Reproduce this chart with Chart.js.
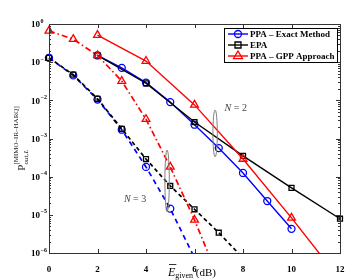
<!DOCTYPE html>
<html>
<head>
<meta charset="utf-8">
<script src="https://cdn.jsdelivr.net/npm/chart.js@4.4.1/dist/chart.umd.min.js"></script>
<style>
  body { margin: 0; background: #fff; }
  canvas { display: block; }
</style>
</head>
<body>
<canvas id="outage" width="351" height="280"></canvas>
<script>
// N = 2 (solid lines)
var exactN2_x = [2, 3, 4, 5, 6, 7, 8, 9, 10];
var exactN2_y = [0.15, 0.071, 0.029, 0.009, 0.0023, 5.6e-4, 1.25e-4, 2.3e-5, 4.3e-6];
var epaN2_x = [2, 4, 6, 8, 10, 12];
var epaN2_y = [0.15, 0.028, 0.0027, 3.5e-4, 5.1e-5, 7.9e-6];
var gppN2_x = [2, 4, 6, 8, 10, 12];
var gppN2_y = [0.51, 0.107, 0.0076, 2.9e-4, 8.3e-6, 2e-7];

// N = 3 (dashed lines)
var exactN3_x = [0, 1, 2, 3, 4, 5, 6];
var exactN3_y = [0.13, 0.045, 0.0105, 0.0017, 1.8e-4, 1.45e-5, 7.5e-7];
var epaN3_x = [0, 1, 2, 3, 4, 5, 6, 7, 8];
var epaN3_y = [0.13, 0.047, 0.011, 0.0018, 2.9e-4, 5.7e-5, 1.4e-5, 3.4e-6, 7.4e-7];
var gppN3_x = [0, 1, 2, 3, 4, 5, 6, 7];
var gppN3_y = [0.66, 0.4, 0.15, 0.032, 0.0032, 1.8e-4, 7.4e-6, 2.1e-7];

var legendNames = ['PPA \u2013 Exact Method', 'EPA', 'PPA \u2013 GPP Approach'];
var xTicks = [0, 2, 4, 6, 8, 10, 12];
var yDecades = [0, -1, -2, -3, -4, -5, -6];

// ellipse groupings: x, upper y, lower y ; labels: text, x, y
var groupLabels = ['2', '3'];
var groupX = [6.85, 4.87];
var groupTop = [5.6e-3, 5.0e-4];
var groupBottom = [3.3e-4, 1.2e-5];
var labelX = [7.7, 3.55];
var labelY = [6.3e-3, 2.5e-5];

var BLUE = '#0000ff', RED = '#ff0000', BLACK = '#000000';

function pts(xs, ys) {
    return xs.map(function (x, i) { return {x: x, y: ys[i]}; });
}

function series(label, xs, ys, color, shape, dash, r) {
    return {
        label: label,
        data: pts(xs, ys),
        borderColor: color,
        backgroundColor: color,
        pointStyle: shape,
        pointRadius: r,
        pointBorderColor: color,
        pointBackgroundColor: 'rgba(0,0,0,0)',
        pointBorderWidth: 1.3,
        borderWidth: dash.length ? 1.7 : 1.4,
        borderDash: dash,
        fill: false,
        tension: 0,
        clip: { left: 8, top: 8, right: 8, bottom: 0 }
    };
}

function drawMarker(ctx, shape, x, y, color) {
    ctx.save();
    ctx.strokeStyle = color;
    ctx.lineWidth = 1.3;
    ctx.setLineDash([]);
    ctx.beginPath();
    if (shape == 'circle') {
        ctx.arc(x, y, 3.5, 0, Math.PI * 2);
    } else if (shape == 'rect') {
        ctx.rect(x - 3, y - 3, 6, 6);
    } else {
        ctx.moveTo(x, y - 5);
        ctx.lineTo(x + 4.5, y + 2.6);
        ctx.lineTo(x - 4.5, y + 2.6);
        ctx.closePath();
    }
    ctx.stroke();
    ctx.restore();
}

var decor = {
    id: 'decor',
    afterDatasetsDraw: function (chart) {
        var ctx = chart.ctx;
        var a = chart.chartArea;
        var xs = chart.scales.x, ys = chart.scales.y;
        ctx.save();

        // box + inward ticks
        ctx.strokeStyle = '#333';
        ctx.lineWidth = 1;
        ctx.strokeRect(a.left + 0.5, a.top + 0.5, a.right - a.left, a.bottom - a.top);
        ctx.beginPath();
        xTicks.forEach(function (v) {
            var px = Math.round(xs.getPixelForValue(v)) + 0.5;
            ctx.moveTo(px, a.bottom); ctx.lineTo(px, a.bottom - 4);
            ctx.moveTo(px, a.top); ctx.lineTo(px, a.top + 4);
        });
        yDecades.forEach(function (d) {
            for (var m = 1; m < 10; m++) {
                var v = m * Math.pow(10, d);
                if (v > 1.0001) continue;
                var py = Math.round(ys.getPixelForValue(v)) + 0.5;
                if (py < a.top || py > a.bottom + 1) continue;
                var len = m == 1 ? 4 : 2;
                ctx.moveTo(a.left, py); ctx.lineTo(a.left + len, py);
                ctx.moveTo(a.right, py); ctx.lineTo(a.right - len, py);
            }
        });
        ctx.stroke();

        // y tick labels 10^d
        ctx.fillStyle = '#000';
        yDecades.forEach(function (d) {
            var py = ys.getPixelForValue(Math.pow(10, d));
            ctx.font = 'bold 9px "Liberation Serif"';
            ctx.textAlign = 'right';
            ctx.textBaseline = 'middle';
            ctx.fillText('10', 40, py + 1);
            ctx.font = 'bold 6px "Liberation Serif"';
            ctx.textAlign = 'left';
            ctx.fillText(d == 0 ? '0' : '\u2212' + (-d), 40.5, py - 3);
        });

        // grouping ellipses and N labels
        ctx.strokeStyle = '#808080';
        ctx.lineWidth = 1;
        groupX.forEach(function (gx, i) {
            var cx = xs.getPixelForValue(gx);
            var t = ys.getPixelForValue(groupTop[i]);
            var b = ys.getPixelForValue(groupBottom[i]);
            ctx.beginPath();
            ctx.ellipse(cx, (t + b) / 2, 2.2, (b - t) / 2, 0, 0, Math.PI * 2);
            ctx.stroke();
            var lx = xs.getPixelForValue(labelX[i]);
            var ly = ys.getPixelForValue(labelY[i]);
            ctx.fillStyle = '#444';
            ctx.textBaseline = 'middle';
            ctx.textAlign = 'left';
            ctx.font = 'italic 10px "Liberation Serif"';
            var w1 = ctx.measureText('N').width;
            ctx.font = '10px "Liberation Serif"';
            var rest = ' = ' + groupLabels[i];
            var w2 = ctx.measureText(rest).width;
            var sx = lx - (w1 + w2) / 2;
            ctx.font = 'italic 10px "Liberation Serif"';
            ctx.fillText('N', sx, ly);
            ctx.font = '10px "Liberation Serif"';
            ctx.fillText(rest, sx + w1, ly);
        });

        // legend
        var lx0 = 224, ly0 = 28, lw = 113, lh = 34;
        ctx.fillStyle = '#fff';
        ctx.fillRect(lx0, ly0, lw, lh);
        ctx.strokeStyle = '#000';
        ctx.lineWidth = 1;
        ctx.strokeRect(lx0 + 0.5, ly0 + 0.5, lw, lh);
        var shapes = ['circle', 'rect', 'triangle'];
        var cols = [BLUE, BLACK, RED];
        legendNames.forEach(function (name, i) {
            var y = ly0 + 6 + i * 11;
            ctx.strokeStyle = cols[i];
            ctx.lineWidth = 1.4;
            ctx.setLineDash([]);
            ctx.beginPath();
            ctx.moveTo(228, y); ctx.lineTo(248, y);
            ctx.stroke();
            drawMarker(ctx, shapes[i], 238, y, cols[i]);
            ctx.fillStyle = '#000';
            ctx.font = 'bold 9px "Liberation Serif"';
            ctx.textAlign = 'left';
            ctx.textBaseline = 'middle';
            ctx.fillText(name, 250, y + 0.5);
        });

        // x axis title: overlined E, subscript "given", (dB)
        var sx = 168;
        var base = 276;
        ctx.fillStyle = '#000';
        ctx.textBaseline = 'alphabetic';
        ctx.textAlign = 'left';
        ctx.font = 'italic 12px "Liberation Serif"';
        var wE = ctx.measureText('E').width;
        ctx.fillText('E', sx, base);
        ctx.beginPath();
        ctx.strokeStyle = '#000';
        ctx.lineWidth = 0.8;
        ctx.moveTo(sx + 1, base - 11.5); ctx.lineTo(sx + wE + 1, base - 11.5);
        ctx.stroke();
        ctx.font = '8px "Liberation Serif"';
        ctx.fillText('given', sx + wE, base + 2);
        var wG = ctx.measureText('given').width;
        ctx.font = '11px "Liberation Serif"';
        ctx.fillText(' (dB)', sx + wE + wG, base);

        // y axis title: P_{out,L}^{[MIMO-IR-HARQ]} rotated
        ctx.save();
        ctx.translate(25, (a.top + a.bottom) / 2);
        ctx.rotate(-Math.PI / 2);
        ctx.fillStyle = '#222';
        ctx.font = '11px "Liberation Serif"';
        var wP = ctx.measureText('P').width;
        ctx.font = '7px "Liberation Serif"';
        var wS = ctx.measureText('[MIMO\u2013IR\u2013HARQ]').width;
        var x0 = -(wP + wS) / 2;
        ctx.font = '11px "Liberation Serif"';
        ctx.fillText('P', x0, 0);
        ctx.font = 'italic 7px "Liberation Serif"';
        ctx.fillText('out,', x0 + wP, 2.5);
        var wo = ctx.measureText('out,').width;
        ctx.fillText('L', x0 + wP + wo + 0.5, 2.5);
        ctx.font = '7px "Liberation Serif"';
        ctx.fillText('[MIMO\u2013IR\u2013HARQ]', x0 + wP, -7);
        ctx.restore();

        ctx.restore();
    }
};

new Chart(document.getElementById('outage'), {
    type: 'line',
    data: {
        datasets: [
            series('gppN3', gppN3_x, gppN3_y, RED, 'triangle', [6, 3, 1.5, 3], 4.5),
            series('epaN3', epaN3_x, epaN3_y, BLACK, 'rect', [4, 3], 3.5),
            series('exactN3', exactN3_x, exactN3_y, BLUE, 'circle', [5, 4], 3.5),
            series(legendNames[2], gppN2_x, gppN2_y, RED, 'triangle', [], 4.5),
            series(legendNames[1], epaN2_x, epaN2_y, BLACK, 'rect', [], 3.5),
            series(legendNames[0], exactN2_x, exactN2_y, BLUE, 'circle', [], 3.5)
        ]
    },
    options: {
        responsive: false,
        animation: false,
        devicePixelRatio: 1,
        layout: { padding: { left: 0, right: 11, top: 24, bottom: 0 } },
        plugins: { legend: { display: false }, tooltip: { enabled: false } },
        scales: {
            x: {
                type: 'linear',
                min: 0,
                max: 12,
                ticks: {
                    stepSize: 2,
                    color: '#000',
                    padding: 3,
                    font: { family: 'Liberation Serif', size: 9, weight: 'bold' }
                },
                grid: { display: false },
                border: { display: false },
                afterFit: function (s) { s.height = 27; }
            },
            y: {
                type: 'logarithmic',
                min: 1e-6,
                max: 1,
                ticks: { display: false },
                grid: { display: false },
                border: { display: false },
                afterFit: function (s) { s.width = 49; }
            }
        }
    },
    plugins: [decor]
});
</script>
</body>
</html>
